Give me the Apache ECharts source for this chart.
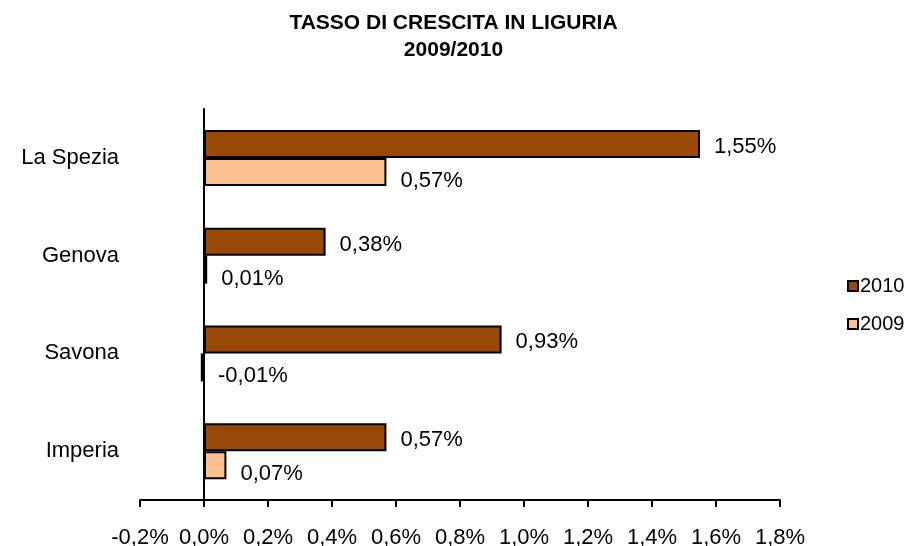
<!DOCTYPE html>
<html>
<head>
<meta charset="utf-8">
<script src="https://cdn.jsdelivr.net/npm/echarts@6/dist/echarts.min.js"></script>
<style>
  html, body { margin: 0; padding: 0; background: #fff; }
  #main { width: 907px; height: 546px; }
</style>
</head>
<body>
<div id="main"></div>
<script>
// province growth rates, bottom to top as on the chart
var provinces = ['Imperia', 'Savona', 'Genova', 'La Spezia'];
var rate2010 = [0.57, 0.93, 0.38, 1.55];
var rate2009 = [0.07, -0.01, 0.01, 0.57];
var seriesNames = ['2010', '2009'];

var FONT = '"Liberation Sans", Arial, sans-serif';

function pct(v, digits) {
  return v.toFixed(digits).replace('.', ',') + '%';
}

var chart = echarts.init(document.getElementById('main'));

var option = {
  backgroundColor: '#fff',
  animation: false,
  textStyle: { fontFamily: FONT, color: '#000' },
  title: {
    text: 'TASSO DI CRESCITA IN LIGURIA\n2009/2010',
    left: 'center',
    top: 5,
    textStyle: {
      fontFamily: FONT,
      fontSize: 21,
      fontWeight: 'bold',
      color: '#000',
      lineHeight: 27
    }
  },
  legend: {
    orient: 'vertical',
    left: 842,
    top: 271,
    itemWidth: 10,
    itemHeight: 10,
    itemGap: 18,
    icon: 'rect',
    data: seriesNames,
    textStyle: { fontFamily: FONT, fontSize: 20, color: '#000', padding: [0, 0, 0, -3] }
  },
  grid: {
    left: 140,
    right: 127,
    top: 109,
    bottom: 46,
    outerBoundsMode: 'none'
  },
  xAxis: {
    type: 'value',
    min: -0.2,
    max: 1.8,
    interval: 0.2,
    splitLine: { show: false },
    axisLine: { show: true, lineStyle: { color: '#000', width: 2 } },
    axisTick: { show: true, length: 7, lineStyle: { color: '#000', width: 2 } },
    axisLabel: {
      margin: 27,
      fontFamily: FONT,
      fontSize: 22,
      color: '#000',
      formatter: function (v) { return pct(v, 1); }
    }
  },
  yAxis: {
    type: 'category',
    data: provinces,
    axisLine: { show: true, onZero: true, lineStyle: { color: '#000', width: 2 } },
    axisTick: { show: false },
    axisLabel: {
      margin: 21,
      fontFamily: FONT,
      fontSize: 22,
      color: '#000'
    }
  },
  series: [{
    name: '2010',
    type: 'bar',
    data: rate2010,
    barWidth: 28,
    barGap: '0%',
    itemStyle: { color: '#984807', borderColor: '#000', borderWidth: 2 },
    label: {
      show: true,
      position: 'right',
      distance: 14,
      offset: [0, 3],
      fontFamily: FONT,
      fontSize: 22,
      color: '#000',
      formatter: function (p) { return pct(p.value, 2); }
    }
  }, {
    name: '2009',
    type: 'bar',
    data: rate2009,
    barWidth: 28,
    barGap: '0%',
    itemStyle: { color: '#FAC090', borderColor: '#000', borderWidth: 2 },
    label: {
      show: true,
      position: 'right',
      distance: 14,
      offset: [0, 9],
      fontFamily: FONT,
      fontSize: 22,
      color: '#000',
      formatter: function (p) { return pct(p.value, 2); }
    }
  }]
};

chart.setOption(option);
</script>
</body>
</html>
